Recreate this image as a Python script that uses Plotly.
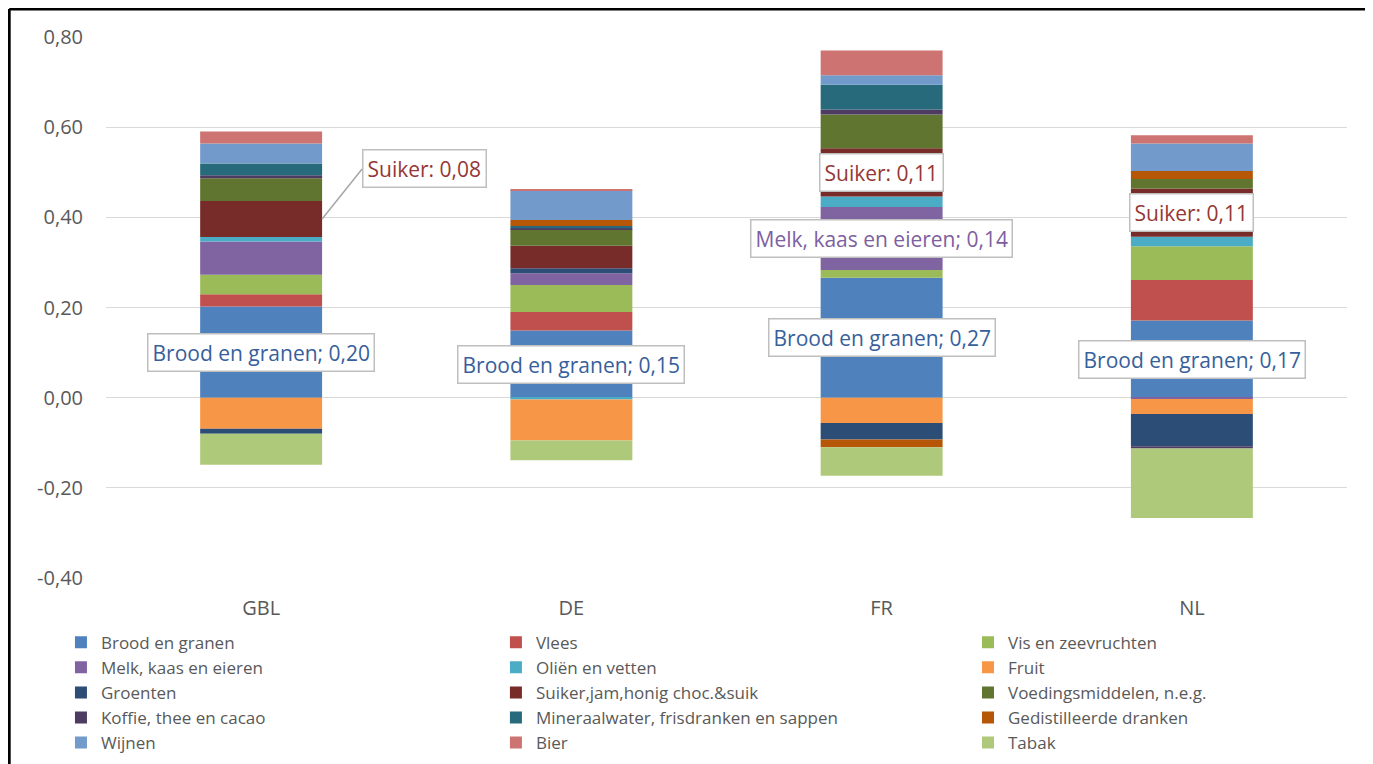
import plotly.graph_objects as go

# ---------------- data ----------------
categories = ["GBL", "DE", "FR", "NL"]

series_names = [
    "Brood en granen", "Vlees", "Vis en zeevruchten",
    "Melk, kaas en eieren", "Oliën en vetten", "Fruit",
    "Groenten", "Suiker,jam,honig choc.&suik", "Voedingsmiddelen, n.e.g.",
    "Koffie, thee en cacao", "Mineraalwater, frisdranken en sappen", "Gedistilleerde dranken",
    "Wijnen", "Bier", "Tabak",
]

brood = [0.202, 0.149, 0.266, 0.171]
vlees = [0.0275, 0.041, 0.0, 0.090]
vis = [0.043, 0.060, 0.017, 0.075]
melk = [0.074, 0.026, 0.140, -0.003]
olien = [0.010, -0.004, 0.023, 0.021]
fruit = [-0.069, -0.091, -0.056, -0.033]
groenten = [-0.011, 0.011, -0.037, -0.072]
suiker = [0.080, 0.050, 0.107, 0.107]
voedings = [0.050, 0.036, 0.075, 0.021]
koffie = [0.007, 0.003, 0.011, -0.005]
mineraal = [0.026, 0.005, 0.055, 0.0]
gedistilleerd = [0.0, 0.013, -0.017, 0.018]
wijnen = [0.044, 0.066, 0.021, 0.061]
bier = [0.027, 0.002, 0.055, 0.018]
tabak = [-0.069, -0.044, -0.063, -0.154]

series_values = [brood, vlees, vis, melk, olien, fruit, groenten, suiker,
                 voedings, koffie, mineraal, gedistilleerd, wijnen, bier, tabak]

colors = ["#4F81BD", "#C0504D", "#9BBB59", "#8064A2", "#4BACC6", "#F79646",
          "#2C4D75", "#772C2A", "#5F7530", "#4D3B62", "#276A7C", "#B65708",
          "#729ACA", "#CD7371", "#AFC97A"]

tick_vals = [-0.4, -0.2, 0.0, 0.2, 0.4, 0.6, 0.8]
tick_labels = ["-0,40", "-0,20", "0,00", "0,20", "0,40", "0,60", "0,80"]

# labelled segments: (series index, category index, text colour)
labelled = [
    (0, 0, "#37609B"), (0, 1, "#37609B"), (0, 2, "#37609B"), (0, 3, "#37609B"),
    (7, 0, "#953735"), (7, 2, "#953735"), (7, 3, "#953735"),
    (3, 2, "#7D60A0"),
]

FONT = "Open Sans, Lato, sans-serif"
GREY = "#595959"
BARGAP = 0.607

fig = go.Figure()
legend_ids = ["legend", "legend2", "legend3"]
for i, (name, vals, col) in enumerate(zip(series_names, series_values, colors)):
    fig.add_trace(go.Bar(
        x=categories, y=vals, name=name,
        marker=dict(color=col, line=dict(width=0)),
        legend=legend_ids[i % 3],
    ))


def fmt(v):
    return f"{v:.2f}".replace(".", ",")


def segment_mid(si, ci):
    v = series_values[si][ci]
    base = 0.0
    for k in range(si):
        w = series_values[k][ci]
        if (w > 0 and v > 0) or (w < 0 and v < 0):
            base += w
    return base + v / 2


annotations = []
for si, ci, tcol in labelled:
    v = series_values[si][ci]
    short = "Suiker" if si == 7 else series_names[si]
    text = f"{short}: {fmt(v)}" if si == 7 else f"{short}; {fmt(v)}"
    common = dict(
        text=text, xref="x", yref="y",
        font=dict(family=FONT, size=21, color=tcol),
        bgcolor="white", bordercolor="#BFBFBF", borderwidth=1.5, borderpad=4,
    )
    if si == 7 and ci == 0:
        # label placed outside the bar with a leader line
        annotations.append(dict(
            x=ci + (1 - BARGAP) / 2, y=segment_mid(si, ci),
            showarrow=True, arrowhead=0, arrowwidth=1.5, arrowcolor="#A6A6A6",
            ax=40, ay=-50, xanchor="left", yanchor="middle", **common))
    else:
        annotations.append(dict(
            x=categories[ci], y=segment_mid(si, ci), showarrow=False,
            xanchor="center", yanchor="middle", **common))

# outer frame (left and top edges visible)
L, T = -0.0780, 1.0518
shapes = [
    dict(type="line", xref="paper", yref="paper", x0=L, x1=L, y0=-0.5, y1=T,
         line=dict(color="black", width=3)),
    dict(type="line", xref="paper", yref="paper", x0=L, x1=1.1, y0=T, y1=T,
         line=dict(color="black", width=3)),
]

legend_common = dict(
    orientation="v", xanchor="left", yanchor="top", y=-0.0862,
    font=dict(family=FONT, size=17, color=GREY), bgcolor="rgba(0,0,0,0)",
    traceorder="normal",
)

fig.update_layout(
    width=1373, height=764,
    margin=dict(l=98, r=34, t=29, b=194, autoexpand=False),
    paper_bgcolor="white", plot_bgcolor="white",
    barmode="relative", bargap=BARGAP,
    font=dict(family=FONT, color=GREY),
    showlegend=True,
    legend=dict(x=-0.0363, **legend_common),
    legend2=dict(x=0.3142, **legend_common),
    legend3=dict(x=0.6946, **legend_common),
    annotations=annotations,
    shapes=shapes,
    xaxis=dict(
        range=[-0.5, 3.5], showgrid=False, showline=False, zeroline=False,
        tickfont=dict(family=FONT, size=20, color=GREY), ticklabelstandoff=16,
    ),
    yaxis=dict(
        range=[-0.4, 0.8], tickvals=tick_vals, ticktext=tick_labels,
        showgrid=True, gridcolor="#D9D9D9", gridwidth=1,
        zeroline=True, zerolinecolor="#D9D9D9", zerolinewidth=1,
        showline=False,
        tickfont=dict(family=FONT, size=20, color=GREY), ticklabelstandoff=22,
    ),
)

fig.write_html("out.html")
